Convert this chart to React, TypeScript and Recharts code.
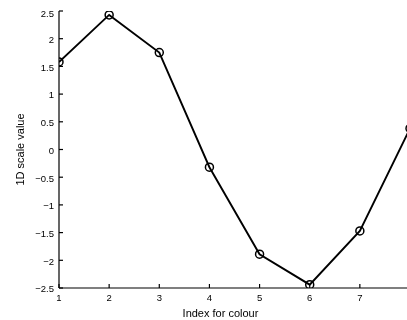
import React from "react";
import { LineChart, Line, XAxis, YAxis } from "recharts";

// colour index vs 1D scale value
const indices = [1, 2, 3, 4, 5, 6, 7, 8];
const scaleValues = [1.58, 2.43, 1.75, -0.32, -1.89, -2.44, -1.47, 0.38];
const xTicks = [1, 2, 3, 4, 5, 6, 7];
const yTicks = [-2.5, -2, -1.5, -1, -0.5, 0, 0.5, 1, 1.5, 2, 2.5];

const data = indices.map((idx, i) => ({ idx, v: scaleValues[i] }));

const font = "'Liberation Sans', Arial, Helvetica, sans-serif";
const fmt = (v: number) => (v < 0 ? "\u2212" + Math.abs(v) : String(v));

function App() {
  // the plot runs past the right edge of the window, as in the original figure
  return (
    <div
      style={{
        position: "fixed",
        left: 8,
        top: 8,
        width: 399,
        height: 312,
        overflow: "hidden",
      }}
    >
      <LineChart
        width={420}
        height={312}
        data={data}
        margin={{ top: 3, right: 18, left: 0, bottom: 0 }}
        style={{ fontFamily: font }}
      >
        <XAxis
          dataKey="idx"
          type="number"
          domain={[1, 8]}
          ticks={xTicks}
          allowDataOverflow
          height={32}
          tickSize={-4}
          tickMargin={10}
          stroke="#000"
          strokeWidth={1.2}
          tick={{ fill: "#000", fontSize: 9.5 }}
          label={{
            value: "Index for colour",
            position: "insideBottom",
            offset: 3,
            dx: -14,
            fill: "#000",
            fontSize: 11,
          }}
        />
        <XAxis
          xAxisId="top"
          orientation="top"
          type="number"
          domain={[1, 8]}
          ticks={xTicks}
          height={0}
          tickSize={-4}
          stroke="#000"
          strokeWidth={1.2}
          tick={false}
        />
        <YAxis
          type="number"
          domain={[-2.5, 2.5]}
          ticks={yTicks}
          allowDataOverflow
          width={51}
          tickSize={-4}
          tickMargin={9}
          stroke="#000"
          strokeWidth={1.2}
          tickFormatter={fmt}
          tick={{ fill: "#000", fontSize: 9.5, dy: 1 }}
          label={{
            content: (props: any) => {
              const vb = props.viewBox || {};
              const cy = (vb.y ?? 3) + (vb.height ?? 277) / 2;
              return (
                <text
                  x={16}
                  y={cy}
                  transform={`rotate(-90, 16, ${cy})`}
                  textAnchor="middle"
                  fontSize={11}
                  fill="#000"
                  fontFamily={font}
                >
                  1D scale value
                </text>
              );
            },
          }}
        />
        <Line
          dataKey="v"
          type="linear"
          stroke="#000"
          strokeWidth={1.9}
          dot={{ r: 4, stroke: "#000", strokeWidth: 1.5, fill: "none" }}
          isAnimationActive={false}
        />
      </LineChart>
    </div>
  );
}

export default App;
